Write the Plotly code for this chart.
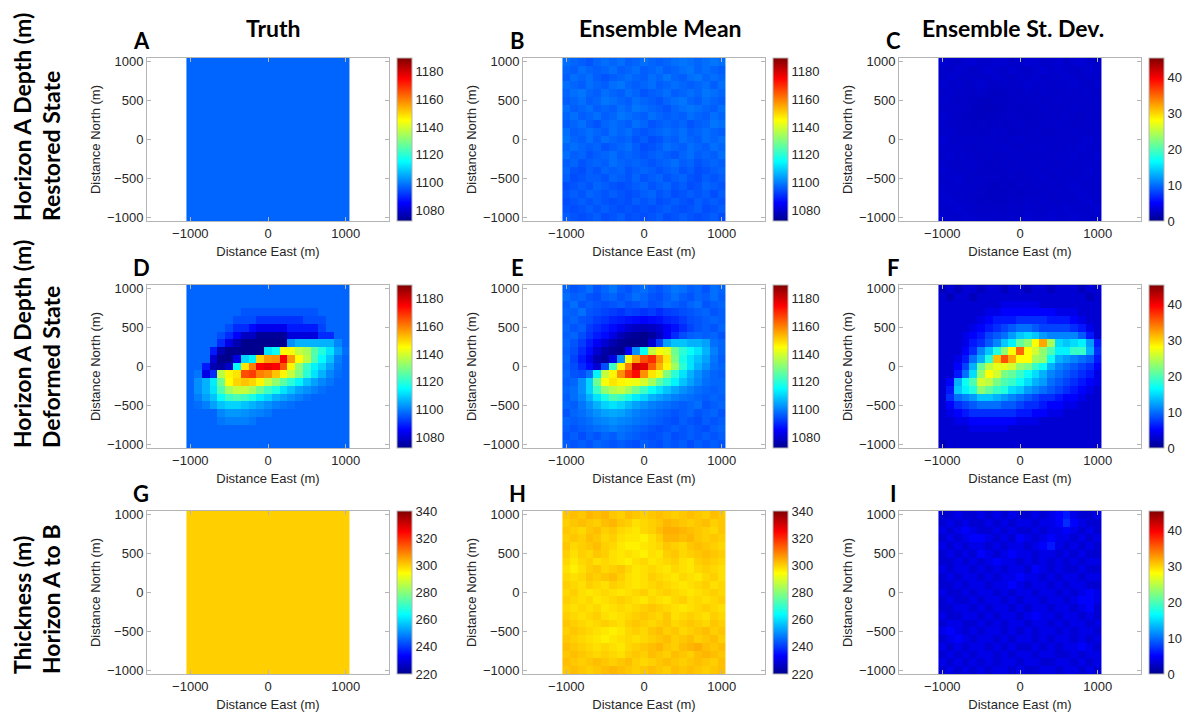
import plotly.graph_objects as go

# ---------------- data ----------------
east = [-1000, -900, -800, -700, -600, -500, -400, -300, -200, -100, 0,
        100, 200, 300, 400, 500, 600, 700, 800, 900, 1000]
north = [1000, 900, 800, 700, 600, 500, 400, 300, 200, 100, 0,
         -100, -200, -300, -400, -500, -600, -700, -800, -900, -1000]

col_titles = ["Truth", "Ensemble Mean", "Ensemble St. Dev."]
panel_letters = ["A", "B", "C", "D", "E", "F", "G", "H", "I"]
row_line1 = ["Horizon A Depth (m)", "Horizon A Depth (m)", "Thickness (m)"]
row_line2 = ["Restored State", "Deformed State", "Horizon A to B"]

depth_range = [1072, 1190]
std_range = [0, 45.3]
thick_range = [220, 340]
depth_ticks = [1080, 1100, 1120, 1140, 1160, 1180]
std_ticks = [0, 10, 20, 30, 40]
thick_ticks = [220, 240, 260, 280, 300, 320, 340]

truth_restored = [[1097] * 21 for _ in range(21)]
truth_thickness = [[300] * 21 for _ in range(21)]

mean_restored = [
    [1098, 1097, 1096, 1095, 1097, 1098, 1097, 1098, 1096, 1097, 1098, 1097, 1096, 1097, 1098, 1099, 1098, 1097, 1098, 1099, 1098],
    [1097, 1096, 1098, 1097, 1096, 1097, 1098, 1096, 1097, 1098, 1096, 1097, 1098, 1096, 1097, 1098, 1099, 1097, 1098, 1097, 1096],
    [1096, 1098, 1097, 1098, 1096, 1095, 1096, 1097, 1098, 1097, 1096, 1098, 1097, 1099, 1097, 1096, 1098, 1099, 1097, 1098, 1097],
    [1098, 1097, 1096, 1098, 1097, 1096, 1098, 1099, 1097, 1096, 1097, 1098, 1096, 1097, 1098, 1097, 1096, 1097, 1098, 1096, 1098],
    [1097, 1098, 1099, 1097, 1096, 1098, 1097, 1096, 1098, 1097, 1095, 1096, 1097, 1098, 1096, 1097, 1098, 1097, 1099, 1098, 1097],
    [1096, 1097, 1098, 1096, 1097, 1099, 1098, 1097, 1096, 1098, 1097, 1096, 1095, 1097, 1098, 1099, 1097, 1096, 1098, 1097, 1096],
    [1098, 1096, 1097, 1098, 1096, 1097, 1096, 1098, 1097, 1099, 1098, 1097, 1096, 1095, 1097, 1098, 1099, 1098, 1097, 1096, 1098],
    [1097, 1098, 1096, 1097, 1098, 1096, 1097, 1099, 1098, 1097, 1096, 1098, 1097, 1096, 1097, 1096, 1098, 1097, 1096, 1098, 1097],
    [1096, 1097, 1098, 1096, 1095, 1097, 1098, 1097, 1096, 1098, 1097, 1095, 1096, 1097, 1096, 1097, 1095, 1096, 1097, 1099, 1098],
    [1098, 1096, 1097, 1098, 1097, 1096, 1098, 1097, 1098, 1096, 1095, 1096, 1097, 1098, 1097, 1098, 1096, 1097, 1098, 1097, 1096],
    [1099, 1097, 1096, 1098, 1096, 1098, 1097, 1096, 1097, 1095, 1096, 1094, 1095, 1097, 1096, 1098, 1097, 1096, 1098, 1097, 1098],
    [1097, 1098, 1097, 1096, 1097, 1095, 1096, 1097, 1098, 1096, 1094, 1095, 1096, 1098, 1097, 1096, 1098, 1097, 1096, 1098, 1097],
    [1098, 1096, 1097, 1095, 1096, 1097, 1098, 1096, 1097, 1096, 1095, 1096, 1097, 1096, 1095, 1097, 1098, 1096, 1097, 1096, 1098],
    [1096, 1097, 1095, 1096, 1097, 1096, 1098, 1097, 1096, 1097, 1096, 1095, 1096, 1097, 1098, 1096, 1097, 1095, 1096, 1097, 1096],
    [1097, 1095, 1094, 1096, 1095, 1097, 1096, 1097, 1095, 1096, 1097, 1096, 1095, 1096, 1097, 1095, 1096, 1094, 1095, 1096, 1097],
    [1096, 1094, 1095, 1096, 1096, 1095, 1097, 1096, 1095, 1097, 1095, 1096, 1097, 1095, 1096, 1097, 1095, 1094, 1096, 1095, 1096],
    [1094, 1095, 1096, 1095, 1097, 1096, 1095, 1094, 1095, 1096, 1097, 1095, 1096, 1097, 1095, 1096, 1094, 1095, 1097, 1096, 1095],
    [1095, 1096, 1095, 1097, 1096, 1095, 1096, 1095, 1094, 1095, 1096, 1097, 1095, 1096, 1094, 1095, 1096, 1095, 1096, 1094, 1096],
    [1094, 1095, 1096, 1095, 1096, 1095, 1094, 1095, 1094, 1096, 1095, 1096, 1094, 1095, 1096, 1095, 1094, 1096, 1095, 1096, 1095],
    [1095, 1094, 1095, 1096, 1095, 1096, 1095, 1094, 1095, 1094, 1095, 1094, 1095, 1096, 1095, 1094, 1095, 1096, 1094, 1095, 1096],
    [1096, 1095, 1094, 1095, 1096, 1094, 1095, 1096, 1094, 1095, 1094, 1095, 1096, 1094, 1095, 1096, 1095, 1094, 1095, 1096, 1094],
]

std_restored = [
    [3.0, 2.8, 2.6, 2.9, 3.1, 2.7, 2.8, 3.0, 2.9, 2.6, 2.8, 3.1, 2.9, 2.7, 2.8, 3.0, 2.6, 2.9, 3.2, 2.8, 2.7],
    [2.8, 2.6, 2.9, 2.7, 2.5, 2.8, 3.0, 2.7, 2.6, 2.9, 2.7, 2.6, 2.8, 3.0, 2.7, 2.9, 2.8, 2.6, 2.7, 2.9, 2.8],
    [2.7, 2.9, 2.7, 2.6, 2.8, 2.6, 2.7, 2.9, 2.7, 2.5, 2.8, 2.7, 2.9, 2.6, 2.8, 2.7, 2.9, 2.8, 2.6, 2.8, 2.7],
    [2.9, 2.7, 2.8, 2.6, 2.7, 2.9, 2.6, 2.5, 2.7, 2.6, 2.7, 2.9, 2.7, 2.8, 2.6, 2.8, 2.7, 2.9, 2.7, 2.6, 2.9],
    [2.6, 2.8, 2.6, 2.7, 2.5, 2.7, 2.4, 2.3, 2.4, 2.6, 2.5, 2.7, 2.6, 2.8, 2.7, 2.6, 2.8, 2.6, 2.8, 2.7, 2.6],
    [2.8, 2.7, 2.5, 2.6, 2.4, 2.3, 2.2, 2.4, 2.3, 2.5, 2.6, 2.5, 2.7, 2.5, 2.6, 2.8, 2.6, 2.7, 2.6, 2.8, 2.7],
    [2.7, 2.6, 2.7, 2.5, 2.3, 2.2, 2.1, 2.2, 2.4, 2.5, 2.4, 2.6, 2.5, 2.7, 2.6, 2.5, 2.7, 2.8, 2.7, 2.6, 2.8],
    [2.9, 2.7, 2.6, 2.4, 2.3, 2.2, 2.3, 2.4, 2.5, 2.6, 2.5, 2.4, 2.6, 2.5, 2.7, 2.6, 2.8, 2.6, 2.5, 2.7, 2.6],
    [2.8, 2.6, 2.5, 2.6, 2.4, 2.5, 2.4, 2.6, 2.4, 2.5, 2.7, 2.6, 2.5, 2.7, 2.6, 2.8, 2.7, 2.5, 2.6, 2.8, 2.7],
    [2.7, 2.8, 2.6, 2.5, 2.6, 2.4, 2.5, 2.7, 2.6, 2.4, 2.6, 2.5, 2.7, 2.6, 2.5, 2.7, 2.6, 2.8, 2.7, 2.6, 2.8],
    [3.1, 2.8, 2.7, 2.6, 2.7, 2.6, 2.8, 2.6, 2.5, 2.7, 2.8, 2.6, 2.5, 2.7, 2.8, 2.6, 2.7, 2.6, 2.8, 2.9, 2.7],
    [2.8, 2.7, 2.8, 2.6, 2.5, 2.7, 2.6, 2.7, 2.8, 2.6, 2.5, 2.7, 2.6, 2.8, 2.7, 2.6, 2.8, 2.7, 2.9, 2.8, 2.7],
    [2.7, 2.9, 2.7, 2.8, 2.6, 2.5, 2.7, 2.5, 2.6, 2.8, 2.7, 2.6, 2.5, 2.7, 2.6, 2.8, 2.7, 2.9, 2.7, 2.8, 2.9],
    [2.8, 2.7, 2.6, 2.7, 2.8, 2.6, 2.4, 2.5, 2.7, 2.6, 2.8, 2.7, 2.6, 2.8, 2.7, 2.6, 2.8, 2.7, 2.8, 2.7, 2.8],
    [2.9, 2.8, 2.7, 2.6, 2.7, 2.5, 2.6, 2.4, 2.5, 2.7, 2.6, 2.7, 2.8, 2.6, 2.7, 2.8, 2.7, 2.6, 2.7, 2.9, 2.7],
    [2.7, 2.8, 2.9, 2.7, 2.6, 2.7, 2.5, 2.6, 2.4, 2.6, 2.5, 2.6, 2.7, 2.8, 2.6, 2.7, 2.8, 2.7, 2.8, 2.7, 2.8],
    [2.8, 2.7, 2.8, 2.6, 2.7, 2.6, 2.4, 2.3, 2.5, 2.4, 2.6, 2.5, 2.7, 2.6, 2.8, 2.6, 2.7, 2.9, 2.7, 2.8, 2.7],
    [2.9, 2.8, 2.7, 2.8, 2.6, 2.5, 2.3, 2.4, 2.3, 2.5, 2.4, 2.6, 2.5, 2.7, 2.6, 2.8, 2.7, 2.8, 2.9, 2.7, 2.8],
    [2.8, 2.9, 2.8, 2.7, 2.6, 2.4, 2.5, 2.3, 2.4, 2.6, 2.5, 2.7, 2.6, 2.8, 2.7, 2.6, 2.8, 2.7, 2.8, 2.9, 2.7],
    [2.7, 2.8, 2.9, 2.8, 2.7, 2.6, 2.5, 2.6, 2.5, 2.7, 2.6, 2.8, 2.7, 2.6, 2.8, 2.7, 2.9, 2.8, 2.7, 2.8, 2.9],
    [2.9, 2.8, 2.7, 2.9, 2.8, 2.7, 2.8, 2.7, 2.6, 2.8, 2.7, 2.9, 2.8, 2.7, 2.9, 2.8, 2.7, 2.9, 2.8, 2.7, 2.8],
]

truth_deformed = [
    [1097] * 21,
    [1097] * 21,
    [1097] * 21,
    [1097, 1097, 1097, 1097, 1097, 1097, 1097, 1095, 1095, 1095, 1095, 1095, 1095, 1095, 1095, 1095, 1095, 1097, 1097, 1097, 1097],
    [1097, 1097, 1097, 1097, 1097, 1097, 1094, 1094, 1094, 1091, 1091, 1091, 1091, 1091, 1091, 1094, 1094, 1094, 1097, 1097, 1097],
    [1097, 1097, 1097, 1097, 1097, 1094, 1090, 1090, 1086, 1083, 1083, 1083, 1083, 1088, 1088, 1088, 1088, 1093, 1097, 1097, 1097],
    [1097, 1097, 1097, 1097, 1094, 1090, 1085, 1078, 1078, 1073, 1073, 1073, 1073, 1081, 1081, 1081, 1081, 1090, 1090, 1097, 1097],
    [1097, 1097, 1097, 1097, 1090, 1082, 1076, 1072, 1072, 1072, 1072, 1072, 1072, 1102, 1106, 1106, 1106, 1106, 1106, 1101, 1097],
    [1097, 1097, 1097, 1088, 1076, 1072, 1072, 1072, 1072, 1072, 1112, 1116, 1145, 1144, 1138, 1135, 1125, 1119, 1112, 1104, 1098],
    [1097, 1097, 1097, 1080, 1072, 1072, 1082, 1110, 1114, 1150, 1157, 1158, 1175, 1157, 1145, 1137, 1124, 1115, 1108, 1100, 1097],
    [1097, 1097, 1088, 1076, 1074, 1079, 1115, 1148, 1160, 1175, 1177, 1175, 1165, 1146, 1132, 1122, 1114, 1110, 1104, 1099, 1097],
    [1097, 1099, 1082, 1090, 1137, 1146, 1148, 1166, 1168, 1160, 1158, 1152, 1146, 1138, 1130, 1120, 1112, 1106, 1101, 1098, 1097],
    [1097, 1102, 1106, 1113, 1128, 1145, 1150, 1152, 1150, 1146, 1138, 1132, 1126, 1120, 1114, 1108, 1104, 1101, 1099, 1097, 1097],
    [1097, 1102, 1106, 1112, 1124, 1134, 1138, 1138, 1134, 1128, 1122, 1118, 1112, 1108, 1104, 1102, 1100, 1098, 1097, 1097, 1097],
    [1097, 1100, 1104, 1108, 1116, 1122, 1124, 1122, 1118, 1113, 1110, 1106, 1104, 1102, 1100, 1098, 1097, 1097, 1097, 1097, 1097],
    [1097, 1098, 1100, 1104, 1108, 1110, 1110, 1108, 1106, 1104, 1102, 1100, 1099, 1098, 1097, 1097, 1097, 1097, 1097, 1097, 1097],
    [1097, 1097, 1097, 1097, 1101, 1103, 1103, 1102, 1101, 1100, 1099, 1097, 1097, 1097, 1097, 1097, 1097, 1097, 1097, 1097, 1097],
    [1097, 1097, 1097, 1097, 1099, 1100, 1100, 1100, 1099, 1097, 1097, 1097, 1097, 1097, 1097, 1097, 1097, 1097, 1097, 1097, 1097],
    [1097] * 21,
    [1097] * 21,
    [1097] * 21,
]

mean_deformed = [
    [1097, 1095, 1096, 1098, 1095, 1097, 1099, 1096, 1095, 1097, 1098, 1096, 1095, 1097, 1099, 1098, 1096, 1097, 1095, 1098, 1097],
    [1098, 1096, 1097, 1095, 1094, 1096, 1097, 1095, 1096, 1098, 1097, 1095, 1094, 1096, 1098, 1096, 1095, 1097, 1096, 1098, 1096],
    [1096, 1098, 1095, 1096, 1095, 1094, 1095, 1096, 1094, 1095, 1096, 1094, 1095, 1097, 1096, 1095, 1097, 1098, 1095, 1096, 1097],
    [1097, 1096, 1098, 1095, 1094, 1093, 1092, 1091, 1093, 1092, 1091, 1092, 1090, 1092, 1093, 1094, 1095, 1096, 1097, 1095, 1096],
    [1096, 1097, 1095, 1094, 1092, 1091, 1089, 1088, 1087, 1086, 1085, 1086, 1087, 1089, 1090, 1092, 1094, 1095, 1096, 1097, 1096],
    [1097, 1095, 1096, 1092, 1090, 1088, 1086, 1083, 1080, 1078, 1077, 1078, 1080, 1084, 1087, 1090, 1093, 1095, 1096, 1095, 1097],
    [1096, 1097, 1094, 1091, 1088, 1086, 1082, 1077, 1074, 1073, 1072, 1074, 1078, 1084, 1090, 1094, 1096, 1097, 1096, 1097, 1095],
    [1097, 1095, 1092, 1088, 1084, 1080, 1076, 1073, 1071, 1071, 1072, 1080, 1092, 1104, 1108, 1108, 1106, 1106, 1104, 1098, 1097],
    [1096, 1094, 1090, 1086, 1080, 1075, 1073, 1072, 1084, 1102, 1116, 1138, 1144, 1142, 1128, 1120, 1116, 1112, 1106, 1100, 1097],
    [1097, 1093, 1088, 1083, 1076, 1074, 1082, 1102, 1144, 1156, 1166, 1170, 1158, 1148, 1130, 1118, 1112, 1108, 1104, 1099, 1096],
    [1096, 1094, 1090, 1086, 1080, 1094, 1122, 1146, 1160, 1180, 1178, 1164, 1154, 1146, 1134, 1120, 1112, 1106, 1102, 1098, 1097],
    [1097, 1095, 1094, 1098, 1114, 1138, 1146, 1158, 1168, 1174, 1158, 1148, 1143, 1130, 1120, 1112, 1106, 1102, 1099, 1097, 1096],
    [1096, 1097, 1102, 1110, 1128, 1144, 1148, 1146, 1144, 1143, 1140, 1134, 1126, 1120, 1114, 1108, 1104, 1101, 1098, 1097, 1097],
    [1097, 1098, 1102, 1110, 1122, 1132, 1136, 1138, 1134, 1128, 1122, 1116, 1112, 1108, 1105, 1102, 1100, 1098, 1097, 1096, 1097],
    [1096, 1098, 1101, 1106, 1112, 1118, 1124, 1122, 1118, 1113, 1110, 1106, 1104, 1102, 1100, 1099, 1098, 1097, 1096, 1097, 1096],
    [1097, 1096, 1099, 1102, 1106, 1110, 1112, 1110, 1107, 1104, 1102, 1100, 1099, 1098, 1097, 1096, 1097, 1098, 1095, 1096, 1097],
    [1095, 1097, 1098, 1100, 1102, 1104, 1105, 1104, 1102, 1100, 1099, 1098, 1097, 1096, 1095, 1096, 1097, 1095, 1096, 1097, 1095],
    [1097, 1096, 1097, 1098, 1100, 1101, 1102, 1101, 1100, 1099, 1098, 1097, 1096, 1095, 1094, 1096, 1095, 1094, 1096, 1095, 1096],
    [1096, 1095, 1096, 1097, 1098, 1099, 1100, 1099, 1098, 1097, 1096, 1095, 1094, 1095, 1096, 1095, 1096, 1095, 1094, 1096, 1097],
    [1095, 1096, 1094, 1096, 1095, 1097, 1096, 1098, 1097, 1096, 1095, 1094, 1095, 1096, 1094, 1095, 1096, 1095, 1096, 1095, 1096],
    [1096, 1095, 1096, 1095, 1097, 1096, 1095, 1096, 1095, 1094, 1096, 1095, 1094, 1096, 1095, 1096, 1094, 1096, 1095, 1096, 1095],
]

std_deformed = [
    [2, 3, 2, 3, 3, 2, 3, 3, 2, 3, 3, 2, 3, 3, 2, 3, 3, 3, 2, 3, 3],
    [3, 2, 3, 3, 2, 3, 3, 3, 3, 3, 3, 3, 3, 3, 3, 3, 3, 3, 3, 2, 3],
    [3, 3, 3, 3, 3, 3, 3, 3, 4, 4, 4, 4, 4, 3, 3, 3, 3, 3, 3, 3, 3],
    [3, 3, 3, 3, 3, 3, 4, 4, 5, 5, 5, 5, 5, 5, 5, 4, 4, 4, 3, 3, 3],
    [3, 3, 3, 3, 3, 4, 5, 6, 6, 6, 7, 7, 7, 7, 6, 6, 6, 5, 4, 3, 3],
    [3, 3, 3, 3, 4, 5, 6, 7, 8, 9, 10, 10, 9, 8, 8, 8, 8, 7, 6, 4, 3],
    [3, 3, 3, 4, 5, 6, 8, 9, 10, 12, 14, 15, 14, 12, 11, 11, 11, 11, 9, 6, 3],
    [3, 3, 3, 4, 6, 7, 9, 11, 14, 16, 21, 23, 28, 32, 24, 15, 14, 15, 16, 12, 6],
    [3, 3, 3, 5, 7, 11, 14, 18, 23, 28, 35, 28, 26, 23, 20, 16, 16, 19, 19, 13, 7],
    [3, 3, 4, 6, 10, 13, 18, 31, 36, 32, 28, 28, 24, 23, 17, 13, 12, 11, 10, 9, 6],
    [3, 3, 5, 8, 13, 21, 25, 27, 27, 26, 23, 22, 19, 17, 13, 11, 10, 9, 8, 7, 5],
    [3, 3, 6, 10, 15, 23, 28, 26, 22, 21, 19, 17, 15, 13, 11, 10, 9, 8, 7, 6, 4],
    [3, 5, 13, 17, 20, 26, 25, 22, 20, 19, 17, 15, 13, 12, 10, 9, 8, 7, 6, 5, 4],
    [3, 6, 14, 16, 18, 23, 21, 19, 18, 15, 14, 12, 11, 10, 9, 8, 7, 6, 5, 4, 3],
    [3, 7, 10, 11, 12, 14, 14, 13, 12, 11, 10, 9, 8, 7, 7, 6, 5, 5, 4, 3, 3],
    [3, 5, 7, 8, 9, 10, 10, 10, 9, 9, 8, 7, 7, 6, 5, 5, 4, 4, 3, 3, 3],
    [3, 4, 5, 6, 7, 7, 7, 7, 7, 7, 6, 6, 5, 5, 4, 4, 3, 3, 3, 3, 3],
    [3, 3, 4, 4, 5, 5, 5, 5, 5, 5, 4, 4, 4, 3, 3, 3, 3, 3, 3, 3, 3],
    [3, 3, 3, 3, 4, 4, 4, 4, 4, 3, 3, 3, 3, 3, 3, 3, 3, 3, 3, 3, 3],
    [3, 3, 3, 3, 3, 3, 3, 3, 3, 3, 3, 3, 3, 3, 3, 3, 3, 3, 3, 3, 3],
    [2, 3, 3, 3, 3, 3, 3, 3, 3, 3, 3, 3, 3, 3, 3, 3, 3, 3, 3, 3, 3],
]

mean_thickness = [
    [301, 302, 301, 303, 302, 303, 301, 300, 302, 301, 300, 301, 302, 301, 300, 301, 302, 301, 300, 302, 301],
    [300, 301, 302, 301, 300, 302, 303, 301, 300, 298, 299, 300, 301, 303, 302, 301, 300, 301, 302, 300, 301],
    [301, 300, 299, 301, 302, 300, 301, 299, 298, 297, 299, 300, 302, 304, 304, 303, 302, 301, 300, 299, 301],
    [300, 301, 300, 302, 301, 299, 300, 298, 297, 297, 296, 298, 300, 303, 303, 302, 303, 301, 300, 301, 300],
    [301, 299, 300, 301, 302, 300, 299, 297, 296, 296, 297, 298, 299, 301, 300, 299, 301, 302, 301, 300, 299],
    [300, 298, 300, 299, 301, 300, 298, 297, 298, 297, 296, 298, 297, 300, 301, 299, 300, 301, 302, 301, 300],
    [299, 297, 299, 300, 298, 299, 298, 297, 296, 298, 299, 297, 298, 299, 300, 298, 297, 300, 301, 300, 299],
    [298, 296, 298, 300, 301, 299, 300, 301, 299, 297, 298, 299, 298, 297, 299, 298, 297, 299, 300, 299, 298],
    [299, 298, 299, 301, 300, 301, 302, 300, 298, 297, 298, 300, 299, 298, 297, 299, 298, 297, 299, 300, 298],
    [300, 299, 298, 300, 299, 298, 300, 299, 298, 297, 298, 299, 300, 299, 298, 297, 298, 299, 300, 298, 299],
    [299, 300, 298, 297, 298, 299, 298, 297, 298, 299, 300, 298, 299, 300, 299, 298, 297, 298, 299, 300, 299],
    [300, 299, 298, 299, 297, 298, 299, 300, 299, 298, 297, 299, 298, 297, 299, 300, 298, 299, 298, 299, 300],
    [299, 298, 299, 298, 299, 297, 298, 299, 298, 299, 300, 301, 300, 299, 298, 297, 298, 299, 300, 299, 298],
    [300, 299, 298, 299, 300, 298, 297, 298, 299, 300, 301, 300, 299, 301, 298, 299, 300, 299, 298, 300, 299],
    [301, 300, 299, 298, 299, 300, 299, 298, 300, 301, 300, 299, 300, 301, 299, 300, 301, 300, 299, 301, 300],
    [300, 301, 300, 299, 298, 297, 296, 297, 299, 300, 299, 301, 302, 300, 301, 299, 300, 301, 302, 300, 301],
    [301, 300, 299, 298, 297, 296, 297, 298, 299, 298, 299, 300, 301, 302, 300, 301, 302, 300, 301, 302, 300],
    [302, 301, 300, 299, 298, 299, 298, 297, 299, 300, 301, 302, 303, 301, 300, 302, 303, 304, 302, 301, 302],
    [301, 302, 301, 300, 299, 300, 299, 298, 300, 301, 300, 302, 301, 300, 302, 301, 300, 302, 303, 302, 301],
    [302, 301, 300, 301, 302, 301, 300, 301, 302, 300, 299, 300, 301, 302, 301, 300, 301, 302, 301, 300, 302],
    [301, 302, 301, 300, 301, 302, 303, 302, 301, 300, 301, 302, 301, 300, 302, 301, 302, 301, 300, 301, 302],
]

std_thickness = [
    [3, 3, 4, 3, 3, 4, 3, 4, 3, 4, 3, 3, 4, 3, 4, 5, 6, 4, 3, 3, 4],
    [3, 4, 3, 4, 3, 3, 4, 3, 4, 3, 4, 4, 3, 4, 4, 5, 7, 5, 4, 3, 3],
    [4, 3, 4, 5, 4, 3, 3, 4, 3, 4, 3, 3, 4, 3, 4, 4, 5, 4, 3, 4, 3],
    [3, 4, 3, 4, 5, 5, 4, 3, 4, 3, 5, 4, 3, 4, 5, 4, 4, 3, 4, 3, 4],
    [4, 3, 4, 3, 4, 4, 3, 4, 3, 4, 4, 3, 4, 5, 6, 4, 3, 4, 3, 4, 3],
    [3, 4, 3, 4, 3, 5, 4, 3, 4, 5, 4, 4, 3, 4, 4, 3, 4, 3, 4, 3, 3],
    [3, 3, 4, 3, 4, 3, 4, 5, 4, 4, 3, 4, 3, 4, 3, 4, 3, 4, 3, 4, 4],
    [4, 3, 4, 4, 3, 4, 3, 4, 3, 4, 4, 3, 5, 4, 3, 4, 3, 3, 4, 3, 3],
    [3, 4, 3, 4, 4, 3, 4, 3, 4, 4, 5, 4, 4, 3, 4, 3, 4, 4, 3, 4, 4],
    [3, 3, 4, 3, 4, 4, 3, 4, 4, 5, 4, 3, 4, 4, 3, 4, 3, 4, 4, 3, 3],
    [4, 3, 3, 4, 3, 4, 4, 3, 4, 3, 4, 4, 3, 4, 4, 3, 4, 3, 4, 5, 4],
    [3, 4, 3, 3, 4, 3, 4, 4, 3, 4, 3, 4, 4, 3, 4, 4, 3, 4, 5, 5, 4],
    [3, 3, 4, 4, 3, 4, 3, 4, 4, 3, 4, 3, 4, 4, 3, 4, 4, 3, 4, 5, 3],
    [4, 3, 3, 4, 4, 3, 4, 3, 4, 4, 3, 4, 5, 4, 4, 3, 4, 4, 3, 4, 3],
    [3, 4, 4, 3, 3, 4, 3, 4, 3, 4, 4, 3, 4, 4, 3, 4, 3, 4, 4, 3, 4],
    [4, 5, 4, 3, 4, 3, 4, 4, 3, 4, 3, 4, 3, 4, 4, 3, 4, 3, 4, 4, 3],
    [3, 4, 5, 4, 3, 4, 4, 3, 4, 3, 4, 4, 3, 4, 3, 4, 4, 3, 4, 3, 4],
    [4, 3, 4, 3, 4, 4, 3, 4, 3, 4, 3, 3, 4, 3, 4, 3, 4, 4, 5, 4, 3],
    [3, 4, 3, 4, 3, 4, 4, 3, 4, 3, 4, 4, 3, 4, 4, 3, 3, 4, 3, 4, 4],
    [4, 3, 4, 3, 4, 3, 4, 3, 4, 4, 3, 4, 4, 3, 3, 4, 4, 3, 4, 3, 4],
    [3, 4, 3, 4, 3, 4, 3, 4, 4, 3, 4, 3, 3, 4, 4, 3, 4, 4, 3, 4, 3],
]

# ---------------- styling ----------------
W, H = 1184, 714
JET = [[0.0, "rgb(0,0,143)"], [0.111, "rgb(0,0,255)"], [0.365, "rgb(0,255,255)"],
       [0.619, "rgb(255,255,0)"], [0.873, "rgb(255,0,0)"], [1.0, "rgb(128,0,0)"]]
AX_FONT = dict(family="Liberation Sans, Arial, sans-serif", size=13, color="#262626")
BOLD = "Lato, Open Sans, sans-serif"
AXC = "#b5b5b5"

col_left = [147, 523, 899]
ax_w = 242
row_top = [58, 285, 511]
ax_h = 163

panels = [
    (truth_restored, depth_range, depth_ticks),
    (mean_restored, depth_range, depth_ticks),
    (std_restored, std_range, std_ticks),
    (truth_deformed, depth_range, depth_ticks),
    (mean_deformed, depth_range, depth_ticks),
    (std_deformed, std_range, std_ticks),
    (truth_thickness, thick_range, thick_ticks),
    (mean_thickness, thick_range, thick_ticks),
    (std_thickness, std_range, std_ticks),
]

fig = go.Figure()
layout = {}
annotations = []

for i, (z, zr, zt) in enumerate(panels):
    r, c = divmod(i, 3)
    n = i + 1
    xs = "" if n == 1 else str(n)
    x0 = col_left[c] / W
    x1 = (col_left[c] + ax_w) / W
    y1 = 1 - row_top[r] / H
    y0 = 1 - (row_top[r] + ax_h) / H
    fig.add_trace(go.Heatmap(
        z=z, x=east, y=north, zmin=zr[0], zmax=zr[1], colorscale=JET,
        xaxis="x" + xs, yaxis="y" + xs, hoverinfo="skip",
        colorbar=dict(
            x=(col_left[c] + ax_w + 8) / W, xanchor="left", xpad=0,
            y=(y0 + y1) / 2, yanchor="middle", ypad=0,
            len=ax_h / H, lenmode="fraction", thickness=15,
            outlinewidth=1, outlinecolor=AXC, ticks="",
            tickvals=zt, tickfont=AX_FONT,
        ),
    ))
    layout["xaxis" + xs] = dict(
        domain=[x0, x1], anchor="y" + xs, range=[-1558, 1558],
        tickvals=[-1000, 0, 1000], ticks="inside", ticklen=4, tickcolor=AXC,
        showline=True, linecolor=AXC, linewidth=1, mirror="ticks",
        showgrid=False, zeroline=False, tickfont=AX_FONT,
        title=dict(text="Distance East (m)", font=AX_FONT, standoff=7),
        automargin=False,
    )
    layout["yaxis" + xs] = dict(
        domain=[y0, y1], anchor="x" + xs, range=[-1050, 1050],
        tickvals=[-1000, -500, 0, 500, 1000], ticks="inside", ticklen=4, tickcolor=AXC,
        showline=True, linecolor=AXC, linewidth=1, mirror="ticks",
        showgrid=False, zeroline=False, tickfont=AX_FONT,
        title=dict(text="Distance North (m)", font=AX_FONT, standoff=3),
        automargin=False,
    )
    annotations.append(dict(
        text="<b>" + panel_letters[i] + "</b>", x=col_left[c] - 6, y=row_top[r] - 18,
        xref="paper", yref="paper", showarrow=False,
        font=dict(family=BOLD, size=22, color="black"),
        xanchor="center", yanchor="middle",
    ))

# convert pixel annotation positions to paper coords
for a in annotations:
    a["x"] = a["x"] / W
    a["y"] = 1 - a["y"] / H

title_centers = [273, 661, 1013]
for c in range(3):
    annotations.append(dict(
        text="<b>" + col_titles[c] + "</b>", x=title_centers[c] / W, y=1 - 28 / H,
        xref="paper", yref="paper", showarrow=False,
        font=dict(family=BOLD, size=23, color="black"),
        xanchor="center", yanchor="middle",
    ))

for r in range(3):
    bottom = row_top[r] + ax_h + 2
    for k, (txt, xc) in enumerate([(row_line1[r], 22), (row_line2[r], 51)]):
        annotations.append(dict(
            text="<b>" + txt + "</b>", x=xc / W, y=1 - bottom / H,
            xref="paper", yref="paper", showarrow=False, textangle=-90,
            font=dict(family=BOLD, size=23, color="black"),
            xanchor="center", yanchor="bottom",
        ))

fig.update_layout(
    **layout,
    annotations=annotations,
    width=W, height=H, autosize=False,
    margin=dict(l=0, r=0, t=0, b=0, pad=0, autoexpand=False),
    paper_bgcolor="white", plot_bgcolor="white",
    showlegend=False,
)

fig.write_html("out.html")
